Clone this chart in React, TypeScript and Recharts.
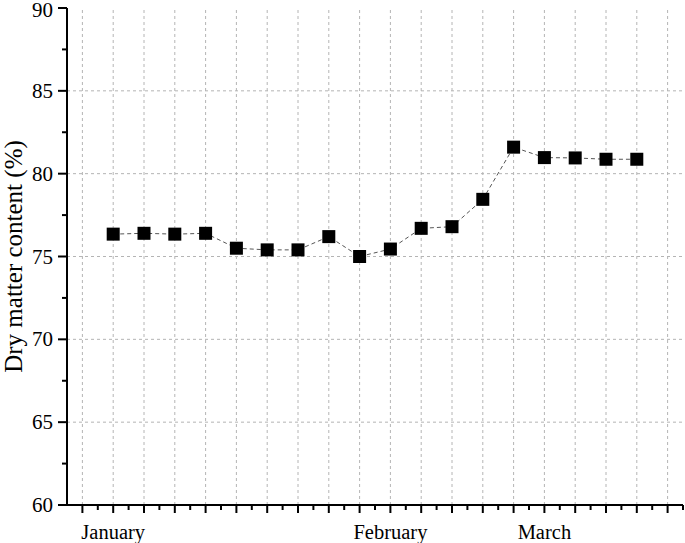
import React from 'react';
import { LineChart, Line, XAxis, YAxis, ReferenceLine } from 'recharts';

// sample slots on the x axis (one slot per sampling date) and dry matter values (%)
const sampleSlots = [1, 2, 3, 4, 5, 6, 7, 8, 9, 10, 11, 12, 13, 14, 15, 16, 17, 18];
const dryMatter = [76.35, 76.4, 76.35, 76.4, 75.5, 75.4, 75.4, 76.2, 75.0, 75.45, 76.7, 76.8, 78.45, 81.6, 80.97, 80.95, 80.87, 80.87];

// month labels and the slots they sit under
const monthSlots = [1, 10, 15];
const monthLabels = ['January', 'February', 'March'];

// axis tick values
const xMajorTicks = [0, 1, 2, 3, 4, 5, 6, 7, 8, 9, 10, 11, 12, 13, 14, 15, 16, 17, 18, 19];
const yMajorTicks = [60, 65, 70, 75, 80, 85, 90];
const yGridLines = [65, 70, 75, 80, 85];

const data = sampleSlots.map((slot, i) => ({ slot, value: dryMatter[i] }));

const xTicks = xMajorTicks.flatMap((t) => [t, t + 0.5]);
const yTicks = yMajorTicks.flatMap((t) => (t < 90 ? [t, t + 2.5] : [t]));

const font = '"Liberation Serif", "Times New Roman", serif';
const gridColor = '#b4b4b4';

const XTick = (props: any) => {
    const { x, y, payload } = props;
    const v = payload.value;
    const major = Number.isInteger(v);
    const idx = monthSlots.indexOf(v);
    return (
        <g>
            <line x1={x} x2={x} y1={y} y2={y + (major ? 8 : 5)} stroke="#000" strokeWidth={2} />
            {idx >= 0 && (
                <text x={x} y={y + 27} textAnchor="middle" dominantBaseline="central" fontSize={20.5} fontFamily={font} fill="#000">
                    {monthLabels[idx]}
                </text>
            )}
        </g>
    );
};

const YTick = (props: any) => {
    const { x, y, payload } = props;
    const v = payload.value;
    const major = v % 5 === 0;
    // keep the top label inside the picture
    const ty = Math.max(y, 10);
    return (
        <g>
            <line x1={x} x2={x - (major ? 9 : 5)} y1={y} y2={y} stroke="#000" strokeWidth={2} />
            {major && (
                <text x={x - 14} y={ty} textAnchor="end" dominantBaseline="central" fontSize={21} fontFamily={font} fill="#000">
                    {v}
                </text>
            )}
        </g>
    );
};

const SquareDot = (props: any) => {
    const { cx, cy, index } = props;
    return <rect key={`dot-${index}`} x={cx - 6.5} y={cy - 6.5} width={13} height={13} fill="#000" />;
};

const YLabel = (props: any) => {
    const { viewBox } = props;
    const cx = 13;
    const cy = viewBox.y + viewBox.height / 2;
    return (
        <text x={cx} y={cy} transform={`rotate(-90 ${cx} ${cy})`} textAnchor="middle" dominantBaseline="central" fontSize={25} fontFamily={font} fill="#000">
            Dry matter content (%)
        </text>
    );
};

const App: React.FC = () => {
    return (
        <div style={{ position: 'absolute', left: 0, top: 0, width: 685, height: 543, background: '#fff' }}>
            <LineChart width={685} height={543} data={data} margin={{ top: 8, right: 2, bottom: 0, left: 0 }}>
                {xMajorTicks.map((t) => (
                    <ReferenceLine key={`vx-${t}`} x={t} stroke={gridColor} strokeDasharray="3 3" strokeWidth={1} />
                ))}
                {yGridLines.map((t) => (
                    <ReferenceLine key={`hy-${t}`} y={t} stroke={gridColor} strokeDasharray="3 3" strokeWidth={1} />
                ))}
                <XAxis
                    type="number"
                    dataKey="slot"
                    domain={[-0.5, 19.5]}
                    ticks={xTicks}
                    interval={0}
                    tickLine={false}
                    tickSize={0}
                    tickMargin={0}
                    height={38}
                    axisLine={{ stroke: '#000', strokeWidth: 2 }}
                    tick={<XTick />}
                    allowDataOverflow
                />
                <YAxis
                    type="number"
                    domain={[60, 90]}
                    ticks={yTicks}
                    interval={0}
                    tickLine={false}
                    tickSize={0}
                    tickMargin={0}
                    width={67}
                    axisLine={{ stroke: '#000', strokeWidth: 2 }}
                    tick={<YTick />}
                    label={<YLabel />}
                    allowDataOverflow
                />
                <Line
                    type="linear"
                    dataKey="value"
                    stroke="#555"
                    strokeWidth={1}
                    strokeDasharray="4 3"
                    dot={<SquareDot />}
                    activeDot={false}
                    isAnimationActive={false}
                />
            </LineChart>
        </div>
    );
};

export default App;
